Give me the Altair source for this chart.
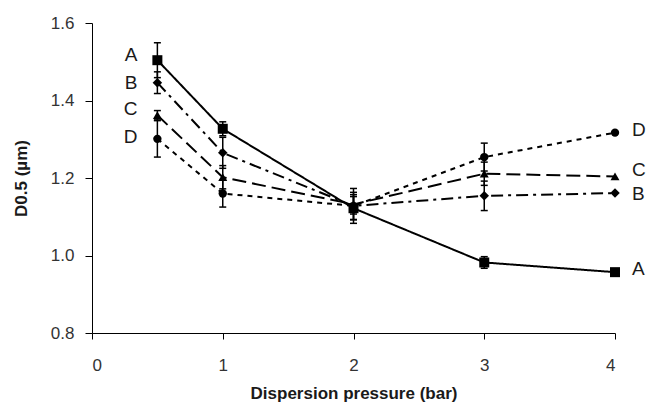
import altair as alt
import pandas as pd

# Median particle size D0.5 (µm) vs dispersion pressure (bar), four series
pressure = [0.5, 1, 2, 3, 4]
series_names = ["A", "B", "C", "D"]

d05_A = [1.504, 1.327, 1.122, 0.982, 0.957]
d05_B = [1.446, 1.265, 1.128, 1.154, 1.161]
d05_C = [1.362, 1.202, 1.132, 1.211, 1.204]
d05_D = [1.301, 1.160, 1.128, 1.254, 1.317]

err_A = [0.045, 0.018, 0.030, 0.015, 0.0]
err_B = [0.028, 0.040, 0.035, 0.038, 0.0]
err_C = [0.012, 0.030, 0.025, 0.030, 0.0]
err_D = [0.047, 0.035, 0.045, 0.036, 0.0]

values = {"A": d05_A, "B": d05_B, "C": d05_C, "D": d05_D}
errors = {"A": err_A, "B": err_B, "C": err_C, "D": err_D}

rows = []
for s in series_names:
    for p, v, e in zip(pressure, values[s], errors[s]):
        rows.append({"series": s, "pressure": p, "d05": v, "err": e})
df = pd.DataFrame(rows)

FONT = "Liberation Sans"

x_enc = alt.X(
    "pressure:Q",
    scale=alt.Scale(domain=[0, 4], nice=False, zero=False),
    axis=alt.Axis(
        values=[0, 1, 2, 3, 4], format="d", title="Dispersion pressure (bar)",
        tickSize=6, labelPadding=18, titlePadding=12,
    ),
)
y_enc = alt.Y(
    "d05:Q",
    scale=alt.Scale(domain=[0.8, 1.6], nice=False, zero=False),
    axis=alt.Axis(
        values=[0.8, 1.0, 1.2, 1.4, 1.6], format=".1f", title="D0.5 (µm)",
        tickSize=7, labelPadding=11, titlePadding=20,
    ),
)

dash_scale = alt.Scale(
    domain=series_names,
    range=[[1, 0], [12, 5, 3, 5], [14, 6], [5, 5]],
)
shape_scale = alt.Scale(
    domain=series_names,
    range=["square", "diamond", "triangle-up", "circle"],
)
size_scale = alt.Scale(domain=series_names, range=[100, 70, 75, 85])

base = alt.Chart(df)

lines = base.mark_line(color="black", strokeWidth=2).encode(
    x=x_enc,
    y=y_enc,
    detail="series:N",
    strokeDash=alt.StrokeDash("series:N", scale=dash_scale, legend=None),
)

err_base = base.transform_filter("datum.err > 0").transform_calculate(
    lo="datum.d05 - datum.err", hi="datum.d05 + datum.err"
)
err_rules = err_base.mark_rule(color="black", strokeWidth=1.5).encode(
    x="pressure:Q", y="lo:Q", y2="hi:Q"
)
cap_lo = err_base.mark_tick(
    orient="horizontal", color="black", size=7, thickness=1.5, opacity=1
).encode(x="pressure:Q", y="lo:Q")
cap_hi = err_base.mark_tick(
    orient="horizontal", color="black", size=7, thickness=1.5, opacity=1
).encode(x="pressure:Q", y="hi:Q")

points = base.mark_point(filled=True, color="black", opacity=1).encode(
    x="pressure:Q",
    y="d05:Q",
    shape=alt.Shape("series:N", scale=shape_scale, legend=None),
    size=alt.Size("series:N", scale=size_scale, legend=None),
)


def series_label(name, at, align, dx, dy):
    """Letter naming a series, placed beside its first or last point."""
    return base.transform_filter(
        f"datum.series == '{name}' && datum.pressure == {at}"
    ).mark_text(
        align=align, baseline="middle", dx=dx, dy=dy, fontSize=19, font=FONT,
        color="#1a1a1a",
    ).encode(x="pressure:Q", y="d05:Q", text="series:N")


labels = [
    series_label("A", 0.5, "right", -20, -5),
    series_label("B", 0.5, "right", -20, 0),
    series_label("C", 0.5, "right", -20, -6),
    series_label("D", 0.5, "right", -20, -2),
    series_label("A", 4, "left", 17, -3),
    series_label("B", 4, "left", 17, 1),
    series_label("C", 4, "left", 17, -6),
    series_label("D", 4, "left", 17, -3),
]

chart = (
    alt.layer(lines, err_rules, cap_lo, cap_hi, points, *labels)
    .properties(
        width=523,
        height=310,
        autosize=alt.AutoSizeParams(type="none"),
        padding={"left": 92, "top": 23, "right": 31, "bottom": 73},
        background="white",
    )
    .configure_view(stroke=None)
    .configure_axis(
        grid=False,
        domainColor="black",
        domainWidth=1,
        tickColor="black",
        tickWidth=1,
        labelFont=FONT,
        labelFontSize=17,
        labelColor="#333333",
        titleFont=FONT,
        titleFontSize=17,
        titleFontWeight="bold",
        titleColor="#1a1a1a",
    )
)

chart.save("out.html", embed_options={"renderer": "svg", "actions": False})
